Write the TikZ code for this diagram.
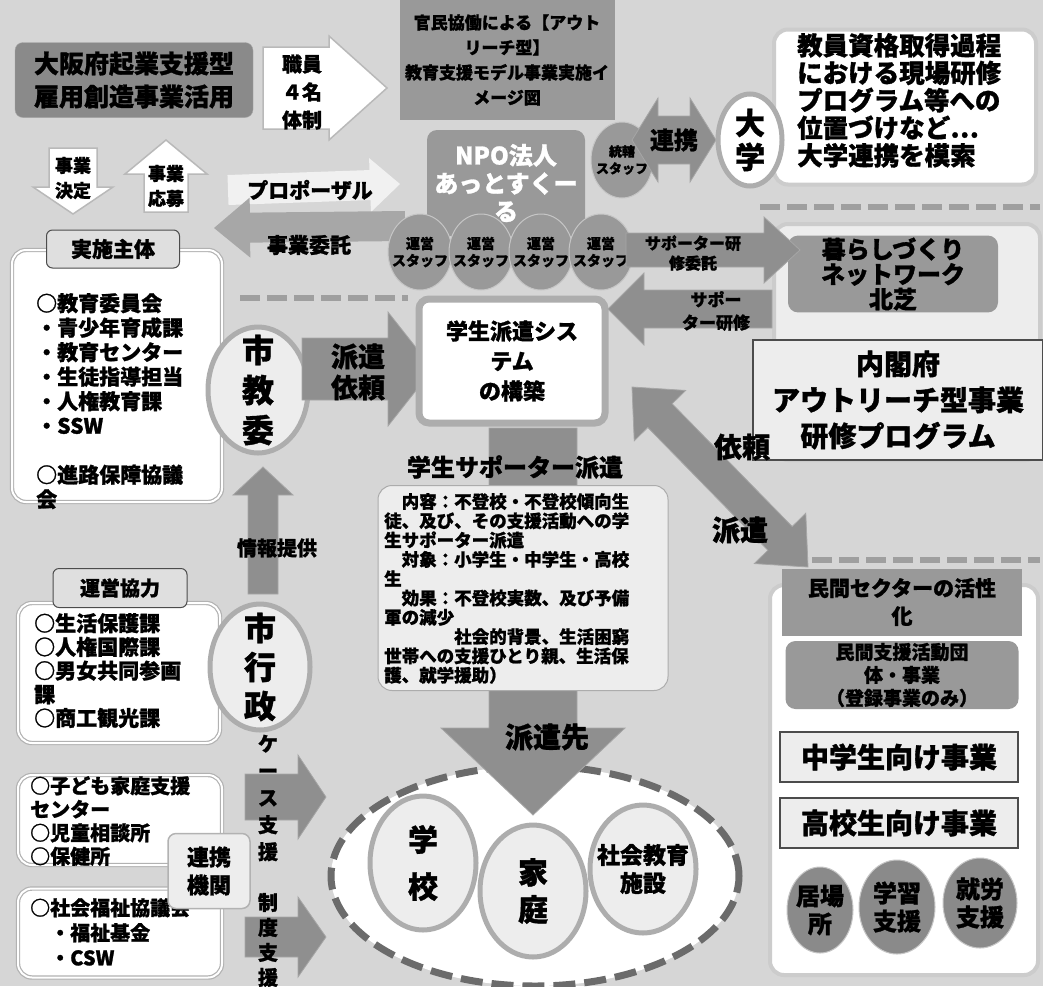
\documentclass[tikz,border=0pt]{standalone}
\usepackage{fontspec}
\setmainfont{Noto Sans CJK JP}[BoldFeatures={FakeBold=1.2}]
\usepackage{tikz}
\usetikzlibrary{positioning,calc,shapes.geometric}

\definecolor{bgcol}{gray}{0.84}
\definecolor{boxgrey}{gray}{0.6}
\definecolor{arrgrey}{gray}{0.56}
\definecolor{ringgrey}{gray}{0.68}
\definecolor{palegrey}{gray}{0.93}
\definecolor{dashgrey}{gray}{0.42}

\newcommand{\fsz}[2]{\fontsize{#1}{#2}\selectfont\bfseries}
% block arrow: style, from, to, half body, half head, head length
\newcommand{\barrow}[6]{%
  \coordinate (hb) at ($(#3)!#6!(#2)$);
  \path[#1] ($(#2)!#4!90:(#3)$) -- ($(hb)!#4!90:(#3)$) -- ($(hb)!#5!90:(#3)$) -- (#3)
    -- ($(hb)!#5!-90:(#3)$) -- ($(hb)!#4!-90:(#3)$) -- ($(#2)!#4!-90:(#3)$) -- cycle;}
\newcommand{\dbarrow}[6]{%
  \coordinate (hb) at ($(#3)!#6!(#2)$);
  \coordinate (ha) at ($(#2)!#6!(#3)$);
  \path[#1] (#2) -- ($(ha)!#5!90:(#3)$) -- ($(ha)!#4!90:(#3)$) -- ($(hb)!#4!90:(#3)$)
    -- ($(hb)!#5!90:(#3)$) -- (#3) -- ($(hb)!#5!-90:(#3)$) -- ($(hb)!#4!-90:(#3)$)
    -- ($(ha)!#4!-90:(#3)$) -- ($(ha)!#5!-90:(#3)$) -- cycle;}

\begin{document}
\begin{tikzpicture}[x=1pt, y=-1pt,
    darkbox/.style={draw=gray!70, fill=boxgrey!90!black, rounded corners=8pt, align=center, inner sep=2pt},
    greybox/.style={fill=boxgrey, align=center, inner sep=2pt},
    frame/.style={rounded corners=14pt, draw=gray!40, line width=4pt, fill=white},
    listbox/.style={draw=gray!60, double=white, double distance=2pt, line width=1.2pt, fill=white, rounded corners=14pt},
    tab/.style={draw=black!70, fill=gray!25, rounded corners=6pt, line width=1pt, align=center},
    ring/.style={ellipse, draw=ringgrey, fill=palegrey, line width=5pt, inner sep=0pt},
    staff/.style={ellipse, fill=boxgrey, draw=gray!45, line width=1pt, inner sep=0pt},
    lbl/.style={align=center, inner sep=0pt, text=black},
    blockarr/.style={fill=arrgrey, draw=gray!70, line width=0.8pt},
    whitearr/.style={fill=white, draw=gray!55, line width=1.5pt},
    dashline/.style={draw=gray!75, line width=6pt, dash pattern=on 20pt off 7pt},
    txt/.style={align=center, inner sep=0pt},
    ltxt/.style={align=left, anchor=north west, inner sep=0pt},
    plainbox/.style={draw=black!70, fill=palegrey, line width=1.2pt, align=center}]
    \useasboundingbox (0,0) rectangle (1043,986);
    \fill[bgcol] (0,0) rectangle (1043,986);

    % Frames
    \node[frame, minimum width=262, minimum height=155] (daigaku_frame) at (905,107) {};
    \node[frame, fill=palegrey, minimum width=266, minimum height=236] (kurashi_frame) at (907,342) {};
    \node[frame, minimum width=268, minimum height=390] (minkan_frame) at (904,780) {};

    % Dashed lines
    \coordinate (dash_top_l) at (760,207);
    \coordinate (dash_top_r) at (1040,207);
    \coordinate (dash_mid_l) at (240,298);
    \coordinate (dash_mid_r) at (408,298);
    \coordinate (dash_low_l) at (812,560);
    \coordinate (dash_low_r) at (1040,560);
    \draw[dashline] (dash_top_l) -- (dash_top_r);
    \draw[dashline] (dash_mid_l) -- (dash_mid_r);
    \draw[dashline] (dash_low_l) -- (dash_low_r);

    % Top row
    \node[darkbox, minimum width=238, minimum height=75, font=\fsz{25}{33}] (osaka) at (134,80) {大阪府起業支援型\\雇用創造事業活用};
    \coordinate (shokuin_s) at (263,88);
    \coordinate (shokuin_e) at (387,88);
    \barrow{whitearr}{shokuin_s}{shokuin_e}{41pt}{52pt}{58pt}
    \node[txt, font=\fsz{20}{28}] (shokuin) at (302,92) {職員\\４名\\体制};
    \node[greybox, minimum width=215, minimum height=120, font=\fsz{17}{25}] (kanmin) at (507,60) {官民協働による【アウト\\リーチ型】\\教育支援モデル事業実施イ\\メージ図};

    % Proposal / itaku
    \coordinate (prop_s) at (228,190);
    \coordinate (prop_e) at (400,184);
    \barrow{fill=white!65!bgcol}{prop_s}{prop_e}{15pt}{27pt}{30pt}
    \coordinate (itaku_s) at (405,226);
    \coordinate (itaku_e) at (214,228);
    \barrow{fill=gray!55!bgcol}{itaku_s}{itaku_e}{15pt}{30pt}{36pt}
    \node[txt, font=\fsz{21}{24}] (proposal) at (310,190) {プロポーザル};
    \node[txt, font=\fsz{21}{24}] (itaku) at (309,245) {事業委託};

    % NPO and staff
    \node[greybox, rounded corners=10pt, minimum width=158, minimum height=106, text=white, font=\fsz{24}{28}] (npo) at (506,183) {NPO法人\\あっとすくー\\る};
    \node[staff, minimum width=62, minimum height=76, label={[lbl, font=\fsz{13}{17}]center:{統轄\\スタッフ}}] (tokatsu) at (622,160) {};
    \node[staff, minimum width=64, minimum height=76, label={[lbl, font=\fsz{14}{17}]center:{運営\\スタッフ}}] (unei_1) at (420,252) {};
    \node[staff, minimum width=64, minimum height=76, label={[lbl, font=\fsz{14}{17}]center:{運営\\スタッフ}}] (unei_2) at (481,252) {};
    \node[staff, minimum width=64, minimum height=76, label={[lbl, font=\fsz{14}{17}]center:{運営\\スタッフ}}] (unei_3) at (541,252) {};
    \node[staff, minimum width=64, minimum height=76, label={[lbl, font=\fsz{14}{17}]center:{運営\\スタッフ}}] (unei_4) at (601,252) {};

    % University
    \coordinate (renkei_s) at (632,140);
    \coordinate (renkei_e) at (716,140);
    \dbarrow{blockarr}{renkei_s}{renkei_e}{24pt}{42pt}{26pt}
    \node[txt, font=\fsz{24}{28}] (renkei) at (674,140) {連携};
    \node[ring, fill=white, minimum width=64, minimum height=92, label={[lbl, font=\fsz{30}{34}]center:{大\\学}}] (daigaku) at (750,140) {};
    \node[ltxt, font=\fsz{25.5}{27.5}] (daigaku_txt) at (797,33) {教員資格取得過程\\における現場研修\\プログラム等への\\位置づけなど…\\大学連携を模索};

    % Decision / application
    \coordinate (kettei_s) at (73,148);
    \coordinate (kettei_e) at (73,214);
    \barrow{whitearr}{kettei_s}{kettei_e}{24pt}{40pt}{27pt}
    \node[txt, font=\fsz{18}{25}] (kettei) at (73,178) {事業\\決定};
    \coordinate (oubo_s) at (166,212);
    \coordinate (oubo_e) at (166,140);
    \barrow{whitearr}{oubo_s}{oubo_e}{22pt}{41pt}{34pt}
    \node[txt, font=\fsz{18}{25}] (oubo) at (166,186) {事業\\応募};

    % Jisshi shutai
    \node[listbox, minimum width=210, minimum height=252] (jisshi_box) at (117,376) {};
    \node[tab, minimum width=133, minimum height=38, font=\fsz{21}{24}] (jisshi_tab) at (113,249) {実施主体};
    \node[ltxt, font=\fsz{21}{24.5}] (jisshi_txt) at (36,293) {○教育委員会\\・青少年育成課\\・教育センター\\・生徒指導担当\\・人権教育課\\・SSW\\[24.5pt]○進路保障協議\\会};
    \node[ring, minimum width=100, minimum height=126, label={[lbl, font=\fsz{32}{40}]center:{市\\教\\委}}] (shikyoi) at (258,390) {};
    \coordinate (irai_s) at (302,369);
    \coordinate (irai_e) at (433,369);
    \barrow{blockarr}{irai_s}{irai_e}{31pt}{57pt}{45pt}
    \node[txt, font=\fsz{27}{31}] (haken_irai) at (358,372) {派遣\\依頼};

    % System
    \node[draw=ringgrey, line width=7pt, fill=white, rounded corners=10pt, minimum width=186, minimum height=124, align=center, font=\fsz{22}{30}] (system) at (512,361) {学生派遣シス\\テム\\の構築};

    % Destinations
    \node[ellipse, draw=dashgrey, fill=white, line width=7pt, dash pattern=on 22pt off 9pt, minimum width=408, minimum height=220] (haken_area) at (535,876) {};
    \coordinate (sapo_s) at (533,428);
    \coordinate (sapo_e) at (533,815);
    \barrow{blockarr}{sapo_s}{sapo_e}{44pt}{92pt}{87pt}
    \node[txt, font=\fsz{24}{28}] (sapo_ttl) at (515,467) {学生サポーター派遣};
    \node[draw=gray!65, fill=palegrey, rounded corners=14pt, line width=1pt, minimum width=290, minimum height=205] (naiyo) at (523,588) {};
    \node[ltxt, font=\fsz{17.5}{19.3}] (naiyo_txt) at (384,493) {\hspace*{1em}内容：不登校・不登校傾向生\\徒、及び、その支援活動への学\\生サポーター派遣\\\hspace*{1em}対象：小学生・中学生・高校\\生\\\hspace*{1em}効果：不登校実数、及び予備\\軍の減少\\\hspace*{4em}社会的背景、生活困窮\\世帯への支援ひとり親、生活保\\護、就学援助）};
    \node[txt, font=\fsz{28}{32}] (hakensaki) at (547,737) {派遣先};
    \node[ring, minimum width=106, minimum height=134, label={[lbl, font=\fsz{30}{47}]center:{学\\校}}] (gakko) at (423,863) {};
    \node[ring, minimum width=106, minimum height=128, label={[lbl, font=\fsz{23}{28}]center:{社会教育\\施設}}] (shakai) at (643,869) {};
    \node[ring, minimum width=106, minimum height=132, label={[lbl, font=\fsz{30}{37}]center:{家\\庭}}] (katei) at (533,891) {};

    % Naikakufu side
    \coordinate (irai2_s) at (632,387);
    \coordinate (irai2_e) at (808,567);
    \dbarrow{blockarr}{irai2_s}{irai2_e}{17pt}{36pt}{40pt}
    \node[greybox, rounded corners=10pt, minimum width=210, minimum height=75, font=\fsz{24}{25}] (kurashi) at (893,274) {暮らしづくり\\ネットワーク\\北芝};
    \coordinate (kenshu_s) at (626,250);
    \coordinate (kenshu_e) at (800,250);
    \barrow{blockarr}{kenshu_s}{kenshu_e}{17pt}{33pt}{36pt}
    \node[txt, font=\fsz{16}{20}] (kenshu_itaku) at (693,253) {サポーター研\\修委託};
    \coordinate (kenshu2_s) at (772,309);
    \coordinate (kenshu2_e) at (608,309);
    \barrow{blockarr}{kenshu2_s}{kenshu2_e}{19pt}{36pt}{36pt}
    \node[txt, font=\fsz{17}{23}] (kenshu) at (716,311) {サポー\\ター研修};
    \node[plainbox, minimum width=290, minimum height=120, font=\fsz{28}{36}] (naikakufu) at (898,400) {内閣府\\アウトリーチ型事業\\研修プログラム};
    \node[txt, font=\fsz{28}{32}] (irai) at (742,447) {依頼};
    \node[txt, font=\fsz{28}{32}] (haken) at (740,530) {派遣};

    % City administration
    \coordinate (joho_s) at (263,594);
    \coordinate (joho_e) at (263,467);
    \barrow{blockarr}{joho_s}{joho_e}{15pt}{30pt}{28pt}
    \node[txt, font=\fsz{20}{24}] (joho) at (277,548) {情報提供};
    \node[listbox, minimum width=202, minimum height=140] (unei_box) at (119,673) {};
    \node[tab, minimum width=134, minimum height=39, font=\fsz{20}{24}] (unei_tab) at (120,588) {運営協力};
    \node[ltxt, font=\fsz{21}{23.7}] (unei_txt) at (34,613) {○生活保護課\\○人権国際課\\○男女共同参画\\課\\○商工観光課};
    \node[ring, minimum width=100, minimum height=126, label={[lbl, font=\fsz{32}{39}]center:{市\\行\\政}}] (shigyosei) at (260,667) {};
    \coordinate (case_s) at (245,797);
    \coordinate (case_e) at (326,797);
    \barrow{blockarr}{case_s}{case_e}{23pt}{42pt}{28pt}
    \node[txt, font=\fsz{20}{27}] (case) at (268,798) {ケ\\ー\\ス\\支\\援};
    \coordinate (seido_s) at (245,937);
    \coordinate (seido_e) at (326,937);
    \barrow{blockarr}{seido_s}{seido_e}{20pt}{40pt}{28pt}
    \node[txt, font=\fsz{20}{25}] (seido) at (268,940) {制\\度\\支\\援};
    \node[listbox, minimum width=204, minimum height=90] (kodomo_box) at (120,820) {};
    \node[ltxt, font=\fsz{20}{23.5}] (kodomo_txt) at (30,776) {○子ども家庭支援\\センター\\○児童相談所\\○保健所};
    \node[listbox, minimum width=204, minimum height=89] (fukushi_box) at (120,933) {};
    \node[ltxt, font=\fsz{20}{25}] (fukushi_txt) at (30,898) {○社会福祉協議会\\\hspace*{1em}・福祉基金\\\hspace*{1em}・CSW};
    \node[tab, fill=palegrey, draw=gray!60, line width=1.5pt, rounded corners=8pt, minimum width=82, minimum height=75, font=\fsz{22}{28}] (renkei_kikan) at (209,871) {連携\\機関};

    % Private sector
    \node[greybox, minimum width=240, minimum height=67, font=\fsz{21}{28}] (minkan_sector) at (902,602) {民間セクターの活性\\化};
    \node[greybox, rounded corners=10pt, minimum width=233, minimum height=68, inner sep=0pt, font=\fsz{19}{23}] (minkan_shien) at (902,675) {民間支援活動団\\体・事業\\（登録事業のみ）};
    \node[plainbox, minimum width=238, minimum height=50, font=\fsz{28}{32}] (chugaku) at (899,757) {中学生向け事業};
    \node[plainbox, minimum width=238, minimum height=50, font=\fsz{28}{32}] (kokou) at (899,823) {高校生向け事業};
    \node[staff, fill=boxgrey!90!black, minimum width=66, minimum height=86, label={[lbl, font=\fsz{24}{28}]center:{居場\\所}}] (ibasho) at (820,910) {};
    \node[staff, fill=boxgrey!90!black, minimum width=76, minimum height=94, label={[lbl, font=\fsz{24}{28}]center:{学習\\支援}}] (gakushu) at (897,907) {};
    \node[staff, fill=boxgrey!90!black, minimum width=74, minimum height=90, label={[lbl, font=\fsz{24}{28}]center:{就労\\支援}}] (shuro) at (980,903) {};
\end{tikzpicture}
\end{document}
